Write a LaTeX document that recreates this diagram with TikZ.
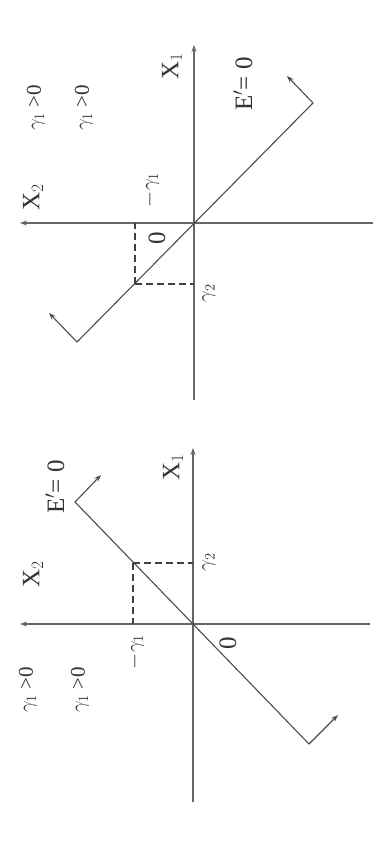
\documentclass[tikz,border=0pt]{standalone}
\usepackage{fontspec}
\setmainfont{Liberation Serif}
\usetikzlibrary{arrows.meta}
\begin{document}
\begin{tikzpicture}[x=1pt,y=-1pt,
  axis/.style={draw=black!60,line width=1.6pt,-{Stealth[length=7pt,width=5pt]}},
  diag/.style={draw=black!70,line width=1.1pt},
  perp/.style={draw=black!70,line width=1.1pt,-{Stealth[length=7pt,width=5pt]}},
  dashline/.style={draw=black!75,line width=1.2pt,dash pattern=on 7pt off 4pt},
  lbig/.style={rotate=90,font=\fontsize{25}{28}\selectfont,text=black!80,inner sep=0pt},
  lmid/.style={rotate=90,font=\fontsize{21}{24}\selectfont,text=black!80,inner sep=0pt},
  lsmall/.style={rotate=90,font=\fontsize{21}{24}\selectfont,text=black!80,inner sep=0pt}]
\fill[white] (0,0) rectangle (382,853);
\useasboundingbox (0,0) rectangle (382,853);
% ---------- upper panel ----------
\coordinate (o1) at (194,223);
\coordinate (x1b1) at (194,400);
\coordinate (x1t1) at (194,45);
\coordinate (x2r1) at (373,223);
\coordinate (x2l1) at (20,223);
\coordinate (a1) at (77,342);
\coordinate (b1) at (313,103);
\coordinate (pa1) at (49,313);
\coordinate (pb1) at (287,76);
\coordinate (p1) at (135,284);
\coordinate (q1) at (194,284);
\coordinate (r1) at (135,223);
\draw[axis] (x1b1) -- (x1t1);
\draw[axis] (x2r1) -- (x2l1);
\draw[diag] (a1) -- (b1);
\draw[perp] (a1) -- (pa1);
\draw[perp] (b1) -- (pb1);
\draw[dashline] (p1) -- (q1);
\draw[dashline] (p1) -- (r1);
\node[lbig] (lx2u) at (33,197) {X$_2$};
\node[lbig] (lx1u) at (172,66) {X$_1$};
\node[lbig] (leu) at (243,84) {E$'$= 0};
\node[lsmall] (lg1u) at (36,108) {$\gamma_1$ >0};
\node[lsmall] (lg2u) at (84,108) {$\gamma_1$ >0};
\node[lbig] (l0u) at (157,238) {0};
\node[lmid] (lmgu) at (151,190) {$-\gamma_1$};
\node[lmid] (lg2du) at (209,293) {$\gamma_2$};
% ---------- lower panel ----------
\coordinate (o2) at (193,624);
\coordinate (x1b2) at (193,802);
\coordinate (x1t2) at (193,448);
\coordinate (x2r2) at (370,624);
\coordinate (x2l2) at (20,624);
\coordinate (a2) at (75,502);
\coordinate (b2) at (309,744);
\coordinate (pa2) at (101,475);
\coordinate (pb2) at (338,715);
\coordinate (p2) at (133,563);
\coordinate (q2) at (193,563);
\coordinate (r2) at (133,624);
\draw[axis] (x1b2) -- (x1t2);
\draw[axis] (x2r2) -- (x2l2);
\draw[diag] (a2) -- (b2);
\draw[perp] (a2) -- (pa2);
\draw[perp] (b2) -- (pb2);
\draw[dashline] (p2) -- (q2);
\draw[dashline] (p2) -- (r2);
\node[lbig] (lx2d) at (33,574) {X$_2$};
\node[lbig] (led) at (55,487) {E$'$= 0};
\node[lbig] (lx1d) at (173,467) {X$_1$};
\node[lmid] (lg2dd) at (209,562) {$\gamma_2$};
\node[lmid] (lmgd) at (136,652) {$-\gamma_1$};
\node[lbig] (l0d) at (228,643) {0};
\node[lsmall] (lg1d) at (28,690) {$\gamma_1$ >0};
\node[lsmall] (lg2d) at (80,690) {$\gamma_1$ >0};
\end{tikzpicture}
\end{document}
